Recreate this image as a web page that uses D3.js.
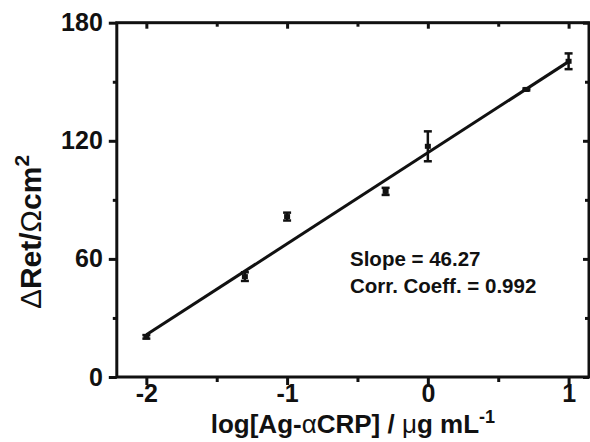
<!DOCTYPE html>
<html><head><meta charset="utf-8">
<script src="https://cdn.jsdelivr.net/npm/d3@7"></script>
<style>
body{margin:0;background:#fff;}
text{font-family:"Liberation Sans",Arial,Helvetica,sans-serif;font-weight:bold;fill:#111;}
</style></head>
<body><svg id="c" width="590" height="442"></svg>
<script>
// data
const xVals = [-2, -1.3, -1, -0.3, 0, 0.7, 1];
const yVals = [20.4, 51, 81.5, 94.3, 117.2, 146.1, 160.4];
const yErr  = [0.9, 2.2, 2.0, 1.8, 7.6, 0.5, 4.0];
const fitSlope = 46.27;
const fitIntercept = 113.95;
const fitRange = [-2, 1];
const xTicks = [-2, -1, 0, 1];
const xMinor = [-1.5, -0.5, 0.5];
const yTicks = [0, 60, 120, 180];
const yMinor = [30, 90, 150];
const annotation = ["Slope = 46.27", "Corr. Coeff. = 0.992"];

const svg = d3.select("#c");
const col = "#111";
const x = d3.scaleLinear().domain([-2.21, 1.145]).range([116.8, 589]);
const y = d3.scaleLinear().domain([0, 180]).range([377, 22.7]);
const L = x.range()[0], R = x.range()[1], B = y.range()[0], T = y.range()[1];

// frame
svg.append("rect").attr("x", L).attr("y", T).attr("width", R - L).attr("height", B - T)
  .attr("fill", "none").attr("stroke", col).attr("stroke-width", 3);

// bottom axis (outward ticks)
const gB = svg.append("g").attr("transform", `translate(0,${B})`)
  .call(d3.axisBottom(x).tickValues(xTicks).tickSize(8).tickFormat(d3.format("d")));
const gBm = svg.append("g").attr("transform", `translate(0,${B})`)
  .call(d3.axisBottom(x).tickValues(xMinor).tickSize(5).tickFormat(""));
// top axis (inward ticks)
const gT = svg.append("g").attr("transform", `translate(0,${T})`)
  .call(d3.axisBottom(x).tickValues(xTicks).tickSize(6).tickFormat(""));
const gTm = svg.append("g").attr("transform", `translate(0,${T})`)
  .call(d3.axisBottom(x).tickValues(xMinor).tickSize(4).tickFormat(""));
// left axis (outward)
const gL = svg.append("g").attr("transform", `translate(${L},0)`)
  .call(d3.axisLeft(y).tickValues(yTicks).tickSize(8).tickPadding(6));
const gLm = svg.append("g").attr("transform", `translate(${L},0)`)
  .call(d3.axisLeft(y).tickValues(yMinor).tickSize(4).tickFormat(""));
// right axis (inward)
const gR = svg.append("g").attr("transform", `translate(${R},0)`)
  .call(d3.axisLeft(y).tickValues(yTicks).tickSize(6).tickFormat(""));
const gRm = svg.append("g").attr("transform", `translate(${R},0)`)
  .call(d3.axisLeft(y).tickValues(yMinor).tickSize(4).tickFormat(""));

[gB, gBm, gT, gTm, gL, gLm, gR, gRm].forEach(g => {
  g.select(".domain").remove();
  g.selectAll(".tick line").attr("stroke", col).attr("stroke-width", 3);
  g.selectAll(".tick text").attr("font-size", 25).attr("font-family", '"Liberation Sans",Arial,sans-serif')
    .attr("font-weight", "bold").attr("fill", col);
});
gB.selectAll(".tick text").attr("y", 7).text(d => d < 0 ? "-" + Math.abs(d) : d);

// fit line
const line = d3.line().x(d => x(d)).y(d => y(fitSlope * d + fitIntercept));
svg.append("path").datum(fitRange).attr("d", line)
  .attr("fill", "none").attr("stroke", col).attr("stroke-width", 3);

// error bars
const data = xVals.map((v, i) => ({x: v, y: yVals[i], e: yErr[i]}));
const eb = svg.append("g").attr("stroke", col).attr("stroke-width", 2.5);
data.forEach(d => {
  const cx = x(d.x), y1 = y(d.y + d.e), y2 = y(d.y - d.e);
  eb.append("line").attr("x1", cx).attr("x2", cx).attr("y1", y1).attr("y2", y2);
  eb.append("line").attr("x1", cx - 4).attr("x2", cx + 4).attr("y1", y1).attr("y2", y1);
  eb.append("line").attr("x1", cx - 4).attr("x2", cx + 4).attr("y1", y2).attr("y2", y2);
});
svg.append("g").selectAll("rect").data(data).join("rect")
  .attr("x", d => x(d.x) - 3).attr("y", d => y(d.y) - 2.5)
  .attr("width", 6).attr("height", 5).attr("fill", col);

// annotation
svg.append("text").attr("x", 350).attr("y", 266).attr("font-size", 20.5).text(annotation[0]);
svg.append("text").attr("x", 350).attr("y", 293).attr("font-size", 20.5).text(annotation[1]);

// x title
const xt = svg.append("text").attr("x", (L + R) / 2).attr("y", 433).attr("text-anchor", "middle").attr("font-size", 26);
xt.append("tspan").text("log[Ag-");
xt.append("tspan").attr("font-weight", "normal").text("α");
xt.append("tspan").text("CRP] / ");
xt.append("tspan").attr("font-weight", "normal").text("μ");
xt.append("tspan").text("g mL");
xt.append("tspan").attr("font-size", 18).attr("dy", -10).text("-1");

// y title
const yt = svg.append("text").attr("transform", `translate(41,232) rotate(-90)`)
  .attr("text-anchor", "middle").attr("font-size", 30);
yt.append("tspan").attr("font-weight", "normal").text("Δ");
yt.append("tspan").text("Ret/");
yt.append("tspan").attr("font-weight", "normal").text("Ω");
yt.append("tspan").text("cm");
yt.append("tspan").attr("font-size", 21).attr("dy", -12).text("2");
</script></body></html>
